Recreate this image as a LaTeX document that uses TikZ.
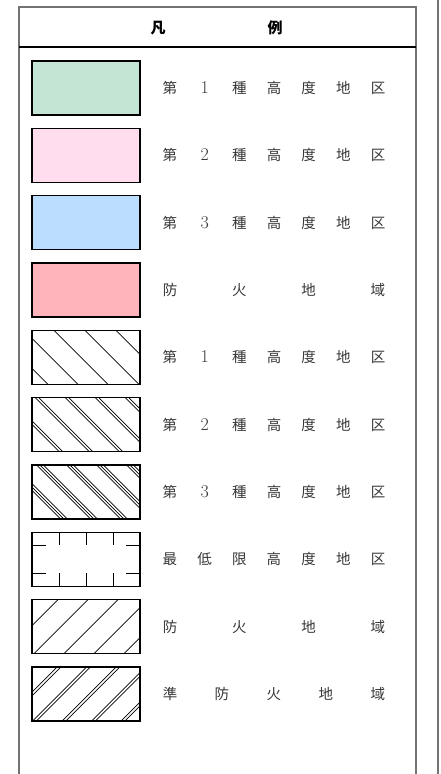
\documentclass[tikz,border=0pt]{standalone}
\usepackage{fontspec}
\newfontfamily\cjk{Noto Sans CJK JP}
\newlength\mycw
\newcommand\cc[1]{\makebox[\mycw][c]{#1}}
\newcommand\dg[1]{{\rmfamily\fontsize{18}{18}\selectfont #1}}
\definecolor{sgreen}{RGB}{196,228,212}
\definecolor{spink}{RGB}{255,221,238}
\definecolor{sblue}{RGB}{187,221,255}
\definecolor{sred}{RGB}{255,179,186}
\begin{document}
\begin{tikzpicture}[x=1pt,y=-1pt,
  frame/.style={draw=black!55, line width=1.4pt},
  swatch/.style={draw=black, line width=1.2pt, minimum width=108pt, minimum height=54pt, inner sep=0pt, anchor=north west, outer sep=0pt},
  hatch/.style={line width=0.8pt, black},
  lbl/.style={font=\cjk\fontsize{14.5}{15}\selectfont, text=black!78, inner sep=0pt, anchor=center},
  hdr/.style={font=\cjk\bfseries\fontsize{15}{16}\selectfont, text=black, inner sep=0pt},
]
\useasboundingbox (0,0) rectangle (440,774);
\fill[white] (0,0) rectangle (440,774);
% frame
\draw[frame] (19,780) -- (19,7) -- (416,7) -- (416,780);
\draw[black, line width=1.2pt] (19,47) -- (416,47);
\draw[frame] (438,0) -- (438,780);
% header
\node[hdr] (h1) at (158,28) {凡};
\node[hdr] (h2) at (275,28) {例};
% swatches
\node[swatch, fill=sgreen] (s1) at (32,61) {};
\node[swatch, fill=spink]  (s2) at (32,128.33) {};
\node[swatch, fill=sblue]  (s3) at (32,195.67) {};
\node[swatch, fill=sred]   (s4) at (32,263) {};
\node[swatch] (s5) at (32,330.33) {};
\node[swatch] (s6) at (32,397.67) {};
\node[swatch] (s7) at (32,465) {};
\node[swatch] (s8) at (32,532.33) {};
\node[swatch] (s9) at (32,599.67) {};
\node[swatch] (s10) at (32,667) {};
% hatch 5: single descending
\begin{scope}
\clip (s5.north west) rectangle (s5.south east);
\begin{scope}[shift={(s5.north west)}]
\foreach \c in {-38,-8,22,53,84}
  \draw[hatch] (\c-60,-60) -- (\c+120,120);
\end{scope}
\end{scope}
% hatch 6: double descending
\begin{scope}
\clip (s6.north west) rectangle (s6.south east);
\begin{scope}[shift={(s6.north west)}]
\foreach \c in {-25,5,35,65,95}
  \foreach \d in {-1.8,1.8}
    \draw[hatch, line width=0.7pt] (\c+\d-60,-60) -- (\c+\d+120,120);
\end{scope}
\end{scope}
% hatch 7: triple descending
\begin{scope}
\clip (s7.north west) rectangle (s7.south east);
\begin{scope}[shift={(s7.north west)}]
\foreach \c in {-22,8,38,68,98}
  \foreach \d in {-3.4,0,3.4}
    \draw[hatch, line width=0.7pt] (\c+\d-60,-60) -- (\c+\d+120,120);
\end{scope}
\end{scope}
% ticks 8
\begin{scope}[shift={(s8.north west)}]
\foreach \x in {27,54,81} {
  \draw[hatch, line width=1pt] (\x,0) -- (\x,13);
  \draw[hatch, line width=1pt] (\x,54) -- (\x,41);
}
\foreach \y in {13,41} {
  \draw[hatch, line width=1pt] (0,\y) -- (14,\y);
  \draw[hatch, line width=1pt] (108,\y) -- (94,\y);
}
\end{scope}
% hatch 9: single ascending
\begin{scope}
\clip (s9.north west) rectangle (s9.south east);
\begin{scope}[shift={(s9.north west)}]
\foreach \c in {26,56,86,116,146}
  \draw[hatch] (\c+60,-60) -- (\c-120,120);
\end{scope}
\end{scope}
% hatch 10: double ascending
\begin{scope}
\clip (s10.north west) rectangle (s10.south east);
\begin{scope}[shift={(s10.north west)}]
\foreach \c in {27,56.5,86,115.5,145}
  \foreach \d in {-1.8,1.8}
    \draw[hatch, line width=0.7pt] (\c+\d+60,-60) -- (\c+\d-120,120);
\end{scope}
\end{scope}
% redraw borders on top
\foreach \n in {s5,s6,s7,s8,s9,s10}
  \draw[black, line width=1.2pt] (\n.north west) rectangle (\n.south east);
% labels
\node[lbl] (t1) at (274,88) {\setlength\mycw{34.67pt}\cc{第}\cc{\dg{1}}\cc{種}\cc{高}\cc{度}\cc{地}\cc{区}};
\node[lbl] (t2) at (274,155.33) {\setlength\mycw{34.67pt}\cc{第}\cc{\dg{2}}\cc{種}\cc{高}\cc{度}\cc{地}\cc{区}};
\node[lbl] (t3) at (274,222.67) {\setlength\mycw{34.67pt}\cc{第}\cc{\dg{3}}\cc{種}\cc{高}\cc{度}\cc{地}\cc{区}};
\node[lbl] (t4) at (274,290) {\setlength\mycw{69.33pt}\cc{防}\cc{火}\cc{地}\cc{域}};
\node[lbl] (t5) at (274,357.33) {\setlength\mycw{34.67pt}\cc{第}\cc{\dg{1}}\cc{種}\cc{高}\cc{度}\cc{地}\cc{区}};
\node[lbl] (t6) at (274,424.67) {\setlength\mycw{34.67pt}\cc{第}\cc{\dg{2}}\cc{種}\cc{高}\cc{度}\cc{地}\cc{区}};
\node[lbl] (t7) at (274,492) {\setlength\mycw{34.67pt}\cc{第}\cc{\dg{3}}\cc{種}\cc{高}\cc{度}\cc{地}\cc{区}};
\node[lbl] (t8) at (274,559.33) {\setlength\mycw{34.67pt}\cc{最}\cc{低}\cc{限}\cc{高}\cc{度}\cc{地}\cc{区}};
\node[lbl] (t9) at (274,626.67) {\setlength\mycw{69.33pt}\cc{防}\cc{火}\cc{地}\cc{域}};
\node[lbl] (t10) at (274,694) {\setlength\mycw{52pt}\cc{準}\cc{防}\cc{火}\cc{地}\cc{域}};
\end{tikzpicture}
\end{document}
